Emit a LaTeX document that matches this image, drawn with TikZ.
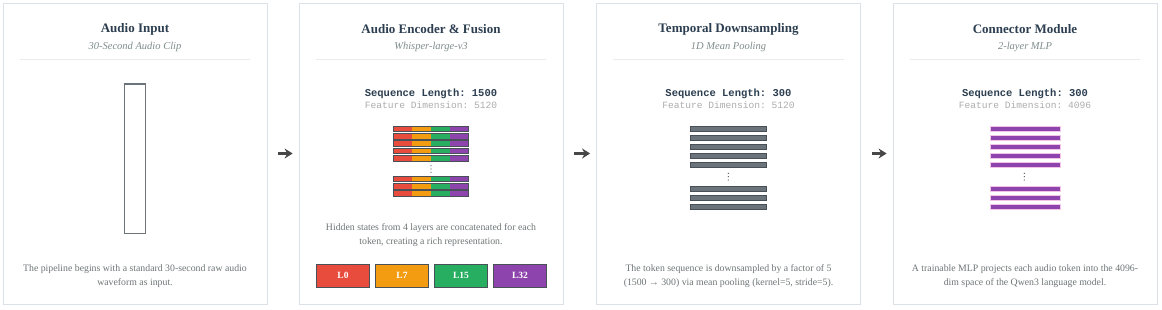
\documentclass[tikz,border=0pt]{standalone}
\usepackage{fontspec}
\setmainfont{Liberation Serif}
\setmonofont{Liberation Mono}
\usetikzlibrary{arrows.meta,positioning,calc}
\definecolor{ink}{HTML}{2C3E50}
\definecolor{muted}{HTML}{7F8C8D}
\definecolor{body}{HTML}{6E7576}
\definecolor{faint}{HTML}{ADADAD}
\definecolor{edge}{HTML}{DCE1E7}
\definecolor{rulec}{HTML}{E9ECEF}
\definecolor{lred}{HTML}{E74C3C}
\definecolor{lorange}{HTML}{F39C12}
\definecolor{lgreen}{HTML}{27AE60}
\definecolor{lpurple}{HTML}{8E44AD}
\definecolor{lpink}{HTML}{F3C4E6}
\definecolor{slate}{HTML}{6B737B}
\definecolor{slatedk}{HTML}{4A5058}
\tikzset{
  panel/.style={draw=edge,line width=0.8pt,fill=white,minimum width=264pt,
    minimum height=301pt,inner sep=0pt},
  ttl/.style={font=\fontsize{13}{15}\selectfont\bfseries,text=ink,inner sep=0pt},
  sub/.style={font=\fontsize{10.5}{12}\selectfont\itshape,text=muted,inner sep=0pt},
  seq/.style={font=\fontsize{10.5}{12}\selectfont\ttfamily\bfseries,text=ink,inner sep=0pt},
  dimtxt/.style={font=\fontsize{9.6}{11}\selectfont\ttfamily,text=faint,inner sep=0pt},
  desc/.style={font=\fontsize{9.8}{14}\selectfont,text=body,align=center,inner sep=0pt},
  rule/.style={draw=rulec,line width=0.8pt},
  lay/.style={draw=slatedk,line width=0.9pt,minimum width=53.5pt,minimum height=23pt,
    inner sep=0pt,outer sep=0pt,text=white,font=\fontsize{9.5}{11}\selectfont\bfseries},
  fl/.style={-{Stealth[length=8pt,width=10pt]},line width=2.2pt,draw=black!72,
    shorten <=11pt,shorten >=6pt},
}

\begin{document}
\begin{tikzpicture}[x=1pt,y=-1pt]
  \useasboundingbox[fill=white] (0,0) rectangle (1162,309);
  % panels
  \node[panel] (inp) at (135,153.5) {};
  \node[panel] (enc) at (431,153.5) {};
  \node[panel] (pool) at (728.5,153.5) {};
  \node[panel] (conn) at (1025,153.5) {};
  \draw[fl] (inp) -- (enc);
  \draw[fl] (enc) -- (pool);
  \draw[fl] (pool) -- (conn);
  % headers
  \foreach \nm/\t/\s in {inp/Audio Input/30-Second Audio Clip,
      enc/Audio Encoder \& Fusion/Whisper-large-v3,
      pool/Temporal Downsampling/1D Mean Pooling,
      conn/Connector Module/2-layer MLP}{
    \node[ttl] (\nm-t) at ($(\nm.north)+(0,26.5)$) {\t};
    \node[sub] (\nm-s) at ($(\nm.north)+(0,44.3)$) {\s};
    \draw[rule] ($(\nm.north west)+(17,57)$) -- ($(\nm.north east)+(-17,57)$);
  }
  \foreach \nm/\n/\d in {enc/1500/5120,pool/300/5120,conn/300/4096}{
    \node[seq] (\nm-n) at ($(\nm.north)+(0,91)$) {Sequence Length: \n};
    \node[dimtxt] (\nm-d) at ($(\nm.north)+(0,102.5)$) {Feature Dimension: \d};
  }
  % audio input
  \node[draw=slate,line width=1.1pt,minimum width=21.5pt,minimum height=149pt,
    inner sep=0pt] (clip) at (135,158.7) {};
  \draw[slate,line width=1.8pt] (clip.north west) -- (clip.north east);
  \node[desc] (inp-x) at ($(inp.north)+(0,273.5)$)
    {The pipeline begins with a standard 30-second raw audio\\waveform as input.};
  % encoder tokens
  \foreach \y in {126,133.4,140.8,148.2,155.6,176,183.4,190.8}{
    \fill[lred] (393.3,\y) rectangle +(18.9,5.6);
    \fill[lorange] (412.2,\y) rectangle +(18.9,5.6);
    \fill[lgreen] (431.1,\y) rectangle +(18.9,5.6);
    \fill[lpurple] (450,\y) rectangle +(18.9,5.6);
    \draw[slatedk,line width=0.9pt] (393.3,\y) rectangle +(75.6,5.6);
  }
  \foreach \y in {165.7,169,172.3}{\fill[black!65] (431,\y) circle (0.65);}
  \node[desc] (enc-x) at ($(enc.north)+(0,232.7)$)
    {Hidden states from 4 layers are concatenated for each\\token, creating a rich representation.};
  \node[lay,fill=lred] (l0) at (343,275.5) {L0};
  \node[lay,fill=lorange,right=5.5pt of l0] (l7) {L7};
  \node[lay,fill=lgreen,right=5.5pt of l7] (l15) {L15};
  \node[lay,fill=lpurple,right=5.5pt of l15] (l32) {L32};
  % pooled tokens
  \foreach \y in {126,135,144,153,162,186,195,204}{
    \draw[slatedk,fill=slate,line width=0.8pt] (690,\y) rectangle +(76.7,5.7);
  }
  \foreach \y in {173.3,176.7,180}{\fill[black!65] (728.3,\y) circle (0.65);}
  \node[desc] (pool-x) at ($(pool.north)+(0,273.5)$)
    {The token sequence is downsampled by a factor of 5\\(1500 → 300) via mean pooling (kernel=5, stride=5).};
  % projected tokens
  \foreach \y in {126,135,144,153,162,186,195,204}{
    \draw[lpink,fill=lpurple,line width=1pt] (990,\y) rectangle +(70,5.2);
  }
  \foreach \y in {173.3,176.7,180}{\fill[black!65] (1024.3,\y) circle (0.65);}
  \node[desc] (conn-x) at ($(conn.north)+(0,273.5)$)
    {A trainable MLP projects each audio token into the 4096-\\dim space of the Qwen3 language model.};
\end{tikzpicture}
\end{document}
